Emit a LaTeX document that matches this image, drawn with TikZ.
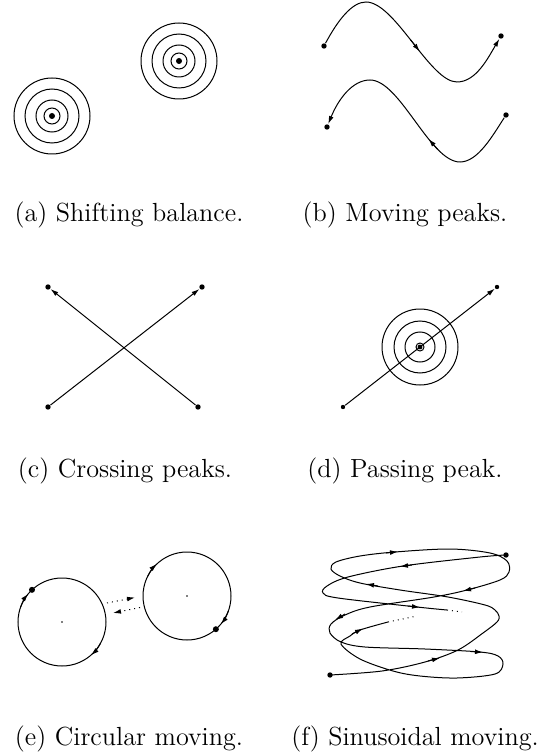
\documentclass[tikz,border=0pt]{standalone}
\usepackage{fontspec}
\usetikzlibrary{arrows.meta}
\begin{document}
\begin{tikzpicture}[x=0.5pt,y=-0.5pt,line width=0.5pt,
  dot/.style={circle,fill,inner sep=0pt,minimum size=2.7pt},
  smalldot/.style={circle,fill,inner sep=0pt,minimum size=2.2pt},
  tip/.style={-{Latex[length=4pt,width=2.4pt]}},
  captext/.style={font=\fontsize{13.1}{15}\selectfont,anchor=base,inner sep=0pt}]
\useasboundingbox (0,0) rectangle (541,754);

% ---------- (a) shifting balance
\coordinate (a1) at (52,116);
\coordinate (a2) at (179,61);
\foreach \r in {38,27,16,8}{\draw (a1) circle (\r); \draw (a2) circle (\r);}
\node[dot,minimum size=3pt] (a1c) at (a1) {};
\node[dot,minimum size=3pt] (a2c) at (a2) {};
\node[captext] (capa) at (129,221) {(a) Shifting balance.};

% ---------- (b) moving peaks
\node[dot] (b1) at (324,46) {};
\node[dot] (b2) at (501,36) {};
\node[dot] (b3) at (506,115) {};
\node[dot] (b4) at (327,127) {};
\draw[tip] (b1) .. controls (338,20) and (352,2) .. (366,2)
  .. controls (395,2) and (430,82) .. (457,82)
  .. controls (476,82) and (488,58) .. (b2);
\draw[tip] (410.4,39.6) -- (419.8,51.5);
\draw[tip] (b3) .. controls (493,135) and (478,162) .. (460,162)
  .. controls (430,162) and (400,80) .. (370,80)
  .. controls (352,80) and (338,100) .. (b4);
\draw[tip] (437.5,149.2) -- (428.5,138.9);
\node[captext] (capb) at (405,221) {(b) Moving peaks.};

% ---------- (c) crossing peaks
\node[dot] (c1) at (48,287) {};
\node[dot] (c2) at (202,287) {};
\node[dot] (c3) at (48,407) {};
\node[dot] (c4) at (198,407) {};
\draw[tip] (c4) -- (c1);
\draw[tip] (c3) -- (c2);
\node[captext] (capc) at (125,477) {(c) Crossing peaks.};

% ---------- (d) passing peak
\coordinate (d0) at (420,347);
\foreach \r in {38,26,15,4}{\draw (d0) circle (\r);}
\node[dot,minimum size=2.4pt] (d0c) at (d0) {};
\node[smalldot] (d1) at (343,407) {};
\node[smalldot] (d2) at (497,287) {};
\draw[tip] (d1) -- (d2);
\node[captext] (capd) at (405,477) {(d) Passing peak.};

% ---------- (e) circular moving
\coordinate (e1) at (62,622);
\coordinate (e2) at (187,596);
\draw (e1) circle (44);
\draw (e2) circle (44);
\fill (e1) circle (0.9);
\fill (e2) circle (0.9);
\node[dot,minimum size=3pt] (e1d) at ([shift={(227:44)}]e1) {};
\node[dot,minimum size=3pt] (e2d) at ([shift={(49:44)}]e2) {};
\draw[tip] ([shift={(200:44)}]e1) arc (200:220:44);
\draw[tip] ([shift={(29:44)}]e1) arc (29:49:44);
\draw[tip] ([shift={(20:44)}]e2) arc (20:40:44);
\draw[tip] ([shift={(207:44)}]e2) arc (207:227:44);
\coordinate (e3) at (107,603);
\coordinate (e4) at (135,597.5);
\coordinate (e5) at (140,607.5);
\coordinate (e6) at (113,613);
\draw[dotted,tip] (e3) -- (e4);
\draw[dotted,tip] (e5) -- (e6);
\node[captext] (cape) at (129,745) {(e) Circular moving.};

% ---------- (f) sinusoidal moving
\node[dot] (f1) at (330,675) {};
\node[dot] (f2) at (506,555) {};
\draw plot[smooth,tension=0.55] coordinates {
 (330,675) (382,671) (425,662) (458,650) (483,633) (497,622) (499,616)
 (495,610) (485,605) (448,597) (400,590) (360,583) (340,576) (331,569)
 (336,562) (360,556) (395,552) (450,549) (490,553) (507,561) (509,572)
 (500,580) (467,590) (434,597) (370,607) (345,615) (331,624) (330,633)
 (341,642) (365,647) (425,649) (480,652) (498,656) (503,664) (495,674)
 (457,678) (420,676) (393,671) (360,659) (341,644) (350,636) (360,630) (388,622)};
\draw[dotted] (388,622) -- (417,616);
\draw plot[smooth,tension=0.55] coordinates {
 (506,555) (480,557) (403,566) (348,577) (327,586) (323,593) (338,598)
 (417,607) (447,610)};
\draw[dotted] (447,610) -- (462,612);
\draw[tip] (428,661) -- (440,658);
\draw[tip] (378,586) -- (366,584);
\draw[tip] (386,553) -- (398,551.7);
\draw[tip] (475,588) -- (463,591);
\draw[tip] (345,614) -- (335,620);
\draw[tip] (471,651.5) -- (483,652.3);
\draw[tip] (352,634) -- (363,628.5);
\draw[tip] (412,565) -- (400,566.5);
\draw[tip] (408,606) -- (420,607.3);
\node[captext] (capf) at (415,745) {(f) Sinusoidal moving.};
\end{tikzpicture}
\end{document}
